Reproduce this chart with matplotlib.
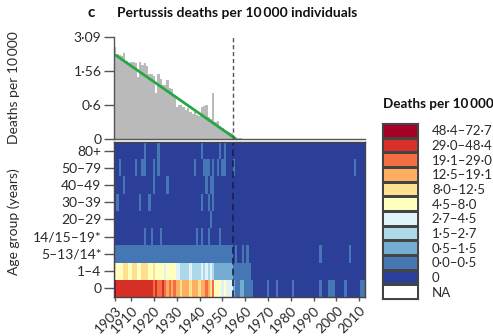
import numpy as np
import matplotlib
matplotlib.use("Agg")
import matplotlib.pyplot as plt
from matplotlib.colors import ListedColormap, BoundaryNorm

plt.rcParams['font.family'] = ['Lato', 'DejaVu Sans']
TXT = '#2a2a2a'
THIN = '\u2009'

# ---- national pertussis death rate (deaths per 10 000), by year ----
bar_years = np.arange(1903, 1959)
bar_values = [
    2.56, 2.22, 2.17, 2.15, 2.28, 1.95, 1.84, 1.90, 1.90, 1.85,   # 1903-1912
    1.36, 1.90, 1.77, 1.85, 1.75, 1.47, 1.47, 1.40, 0.88, 1.47,   # 1913-1922
    1.30, 1.10, 1.10, 1.25, 1.01, 1.00, 0.83, 0.56, 0.60, 0.60,   # 1923-1932
    0.55, 0.50, 0.53, 0.46, 0.42, 0.45, 0.40, 0.38, 0.55, 0.58,   # 1933-1942
    0.60, 0.36, 0.32, 0.89, 0.27, 0.28, 0.20, 0.17, 0.13, 0.12,   # 1943-1952
    0.10, 0.08, 0.02, 0.015, 0.02, 0.02,                          # 1953-1958
]
vaccine_year = 1955

# pre-vaccine trend (straight on the log(1 + rate) axis)
trend_start_year = 1903
trend_start_value = 2.2
trend_zero_year = 1956

y_ticks = [0, 0.6, 1.56, 3.09]
y_tick_labels = ["0", "0·6", "1·56", "3·09"]

# ---- age-specific rates, as legend classes ----
years = np.arange(1903, 2013)
age_groups = ["0", "1–4", "5–13/14*", "14/15–19*", "20–29", "30–39",
              "40–49", "50–79", "80+"]

class_labels = ["0", "0·0–0·5", "0·5–1·5", "1·5–2·7", "2·7–4·5", "4·5–8·0",
                "8·0–12·5", "12·5–19·1", "19·1–29·0", "29·0–48·4", "48·4–72·7"]
class_colors = ["#2c3f98", "#4577b5", "#74add1", "#abd9e9", "#e0f3f8", "#ffffbf",
                "#fee090", "#fdae61", "#f46d43", "#d73027", "#a50026"]
na_label = "NA"

# (first year, last year, class index); later entries overwrite earlier ones
age0_segments = [
    (1903, 1903, 10), (1904, 1919, 9), (1920, 1920, 8), (1921, 1921, 9),
    (1922, 1923, 8), (1924, 1924, 9), (1925, 1925, 8), (1926, 1926, 7),
    (1927, 1927, 8), (1928, 1928, 7), (1929, 1929, 8), (1930, 1931, 7),
    (1932, 1932, 6), (1933, 1935, 7), (1936, 1936, 6), (1937, 1939, 7),
    (1940, 1940, 6), (1941, 1942, 7), (1943, 1943, 8), (1944, 1944, 7),
    (1945, 1945, 6), (1946, 1946, 8), (1947, 1949, 5), (1950, 1950, 4),
    (1951, 1951, 5), (1952, 1954, 4), (1955, 1955, 2), (1956, 1957, 1),
    (1958, 1959, 2), (1960, 1963, 1), (1964, 2012, 0), (1970, 1970, 1),
    (1974, 1974, 1), (1981, 1981, 1), (1993, 1993, 1), (1997, 1999, 1),
    (2004, 2004, 1), (2011, 2012, 1),
]
age1_4_segments = [
    (1903, 1903, 6), (1904, 1906, 5), (1907, 1908, 6), (1909, 1910, 5),
    (1911, 1912, 6), (1913, 1914, 5), (1915, 1917, 6), (1918, 1919, 5),
    (1920, 1920, 6), (1921, 1924, 5), (1925, 1925, 4), (1926, 1929, 5),
    (1930, 1931, 4), (1932, 1940, 3), (1936, 1936, 4), (1941, 1941, 4),
    (1942, 1942, 3), (1943, 1943, 4), (1944, 1944, 3), (1945, 1945, 4),
    (1946, 1946, 3), (1947, 1954, 2), (1955, 1962, 1), (1963, 2012, 0),
]
age5_13_segments = [
    (1903, 1954, 1), (1955, 2012, 0), (1956, 1956, 1), (1959, 1959, 1),
    (1961, 1961, 1), (1993, 1993, 1), (2006, 2006, 1),
]
# older groups: zero deaths except these years (class 0·0–0·5)
age14_19_years = [1916, 1919, 1923, 1939, 1941, 1944, 1949]
age20_29_years = [1945]
age30_39_years = [1904, 1914, 1918, 1941, 1944, 1946]
age40_49_years = [1907, 1920, 1926, 1943, 1945, 1946]
age50_79_years = [1905, 1912, 1915, 1916, 1920, 1922, 1938, 1942, 1943, 1944,
                  1946, 1948, 1950, 1951, 1955, 2008]
age80_years = [1916, 1922, 1941, 1949, 1951]


def row_from_segments(segments):
    row = np.zeros(len(years), dtype=int)
    for first, last, level in segments:
        row[(years >= first) & (years <= last)] = level
    return row


def row_from_years(active):
    return np.where(np.isin(years, active), 1, 0)


grid = np.vstack([
    row_from_segments(age0_segments),
    row_from_segments(age1_4_segments),
    row_from_segments(age5_13_segments),
    row_from_years(age14_19_years),
    row_from_years(age20_29_years),
    row_from_years(age30_39_years),
    row_from_years(age40_49_years),
    row_from_years(age50_79_years),
    row_from_years(age80_years),
])

W, H = 493, 336
fig = plt.figure(figsize=(W / 100, H / 100), dpi=100)


def box(l, t, r, b):
    return [l / W, 1 - b / H, (r - l) / W, (b - t) / H]


x_lo, x_hi = years[0] - 0.5, years[-1] + 0.5

# ---- upper panel: overall deaths and linear trend ----
ax = fig.add_axes(box(114, 37, 365, 139))
ax.bar(bar_years, bar_values, width=1.0, color='#bababa', linewidth=0)
ax.set_yscale('function', functions=(np.log1p, np.expm1))
ax.set_ylim(0, max(y_ticks))
ax.set_xlim(x_lo, x_hi)

tx = np.linspace(trend_start_year, trend_zero_year, 50)
slope = -np.log1p(trend_start_value) / (trend_zero_year - trend_start_year)
ax.plot(tx, np.expm1(np.log1p(trend_start_value) + slope * (tx - trend_start_year)),
        color='#27a844', lw=2, solid_capstyle='butt', clip_on=False)
ax.axvline(vaccine_year - 0.5, color='#555555', ls=(0, (3, 2)), lw=1)

ax.set_yticks(y_ticks)
ax.set_yticklabels(y_tick_labels)
ax.set_xticks([])
ax.yaxis.set_minor_locator(matplotlib.ticker.NullLocator())
for s in ('top', 'right'):
    ax.spines[s].set_visible(False)
for s in ('left', 'bottom'):
    ax.spines[s].set_color('#555555')
    ax.spines[s].set_linewidth(1)
ax.tick_params(axis='y', length=7, width=1, color='#555555', labelsize=10,
               labelcolor=TXT, pad=2)

# ---- lower panel: heatmap by age group ----
cmap = ListedColormap(class_colors)
norm = BoundaryNorm(np.arange(-0.5, len(class_colors) + 0.5), len(class_colors))
hm = fig.add_axes(box(114, 142, 365, 297))
hm.pcolormesh(np.append(years - 0.5, years[-1] + 0.5),
              np.arange(len(age_groups) + 1) - 0.5,
              grid, cmap=cmap, norm=norm)
hm.axvline(vaccine_year - 0.5, color='#1a2244', ls=(0, (4, 2.5)), lw=1.2)
hm.set_xlim(x_lo, x_hi)
hm.set_ylim(-0.5, len(age_groups) - 0.5)
hm.set_yticks(range(len(age_groups)))
hm.set_yticklabels(age_groups)
xt = [1903] + list(range(1910, 2011, 10))
hm.set_xticks(xt)
hm.set_xticklabels([str(v) for v in xt], rotation=45, ha='right',
                   rotation_mode='anchor')
for s in hm.spines.values():
    s.set_color('#444444')
    s.set_linewidth(1)
hm.tick_params(axis='y', length=7, width=1, color='#555555', labelsize=10,
               labelcolor=TXT, pad=2)
hm.tick_params(axis='x', length=3, width=1, color='#555555', labelsize=10,
               labelcolor=TXT, pad=2)

# ---- legend of classes ----
leg = fig.add_axes(box(382, 123, 418, 299))
leg_colors = ['#ffffff'] + class_colors
leg_labels = [na_label] + class_labels
leg.pcolormesh(np.array([0, 1]), np.arange(len(leg_colors) + 1),
               np.arange(len(leg_colors)).reshape(-1, 1),
               cmap=ListedColormap(leg_colors),
               norm=BoundaryNorm(np.arange(-0.5, len(leg_colors) + 0.5),
                                 len(leg_colors)),
               edgecolors='#444444', linewidth=1)
leg.set_xlim(0, 1)
leg.set_ylim(0, len(leg_colors))
leg.set_xticks([])
leg.set_yticks(np.arange(len(leg_colors)) + 0.5)
leg.set_yticklabels(leg_labels)
leg.yaxis.tick_right()
leg.tick_params(axis='y', length=0, labelsize=9.5, labelcolor=TXT, pad=10)
for s in leg.spines.values():
    s.set_color('#444444')
fig.text(383 / W, 1 - 104 / H, f"Deaths per 10{THIN}000", fontsize=9.7,
         fontweight='bold', color='#111111', va='center', ha='left')

# ---- titles and axis labels ----
fig.text(88 / W, 1 - 13 / H, "c", fontsize=11, fontweight='bold',
         color='#111111', va='center', ha='left')
fig.text(117 / W, 1 - 13 / H, f"Pertussis deaths per 10{THIN}000 individuals",
         fontsize=10, fontweight='bold', color='#111111', va='center', ha='left')
fig.text(14 / W, 1 - 88 / H, f"Deaths per 10{THIN}000", rotation=90,
         fontsize=10, color=TXT, va='center', ha='center')
fig.text(14 / W, 1 - 222 / H, "Age group (years)", rotation=90,
         fontsize=10, color=TXT, va='center', ha='center')

fig.savefig("out.png", dpi=100)
